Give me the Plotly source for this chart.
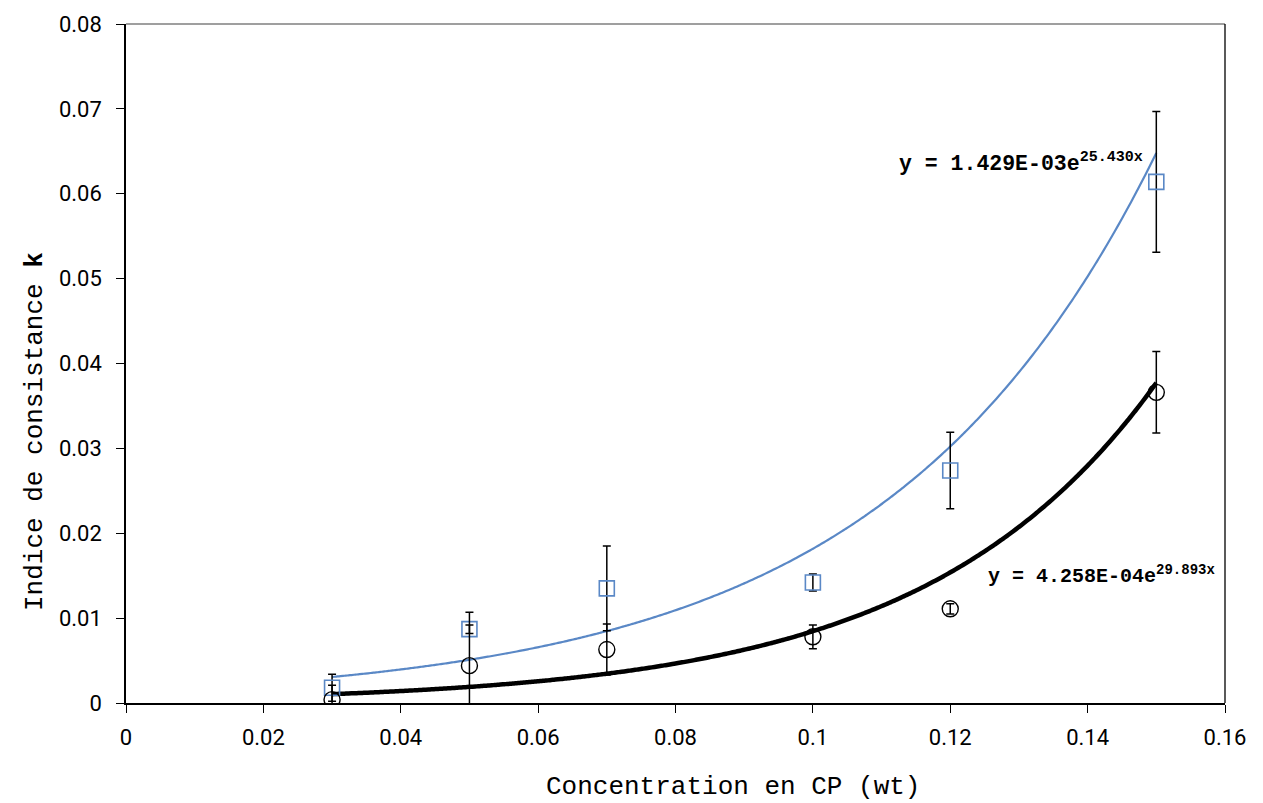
import numpy as np
import plotly.graph_objects as go

# data
conc = [0.03, 0.05, 0.07, 0.10, 0.12, 0.15]
k_blue = [0.0018, 0.0087, 0.0135, 0.0142, 0.0274, 0.0614]
err_blue = [0.0016, 0.0005, 0.0050, 0.0010, 0.0045, 0.0083]
k_black = [0.0004, 0.0044, 0.0063, 0.0078, 0.0111, 0.0366]
err_black = [0.0017, 0.0063, 0.0030, 0.0014, 0.0006, 0.0048]

# fit coefficients displayed on chart: y = a*exp(b*x)
fit_blue = [1.429e-03, 25.430]
fit_black = [4.258e-04, 29.893]

x_ticks = [0, 0.02, 0.04, 0.06, 0.08, 0.1, 0.12, 0.14, 0.16]
y_ticks = [0, 0.01, 0.02, 0.03, 0.04, 0.05, 0.06, 0.07, 0.08]

BLUE = "#5a88c6"
xf = np.linspace(min(conc), max(conc), 300)

fig = go.Figure()
fig.add_trace(go.Scatter(x=xf, y=fit_blue[0] * np.exp(fit_blue[1] * xf), mode="lines",
                         line=dict(color=BLUE, width=2.2, shape="spline"), hoverinfo="skip"))
fig.add_trace(go.Scatter(x=xf, y=fit_black[0] * np.exp(fit_black[1] * xf), mode="lines",
                         line=dict(color="black", width=4.5, shape="spline"), hoverinfo="skip"))
fig.add_trace(go.Scatter(x=conc, y=k_blue, mode="markers",
                         marker=dict(symbol="square-open", size=15, color=BLUE, line=dict(width=1.6)),
                         error_y=dict(type="data", array=err_blue, color="black", thickness=1.5, width=4)))
fig.add_trace(go.Scatter(x=conc, y=k_black, mode="markers",
                         marker=dict(symbol="circle-open", size=16, color="black", line=dict(width=1.4)),
                         error_y=dict(type="data", array=err_black, color="black", thickness=1.5, width=4)))

TYPE = "Liberation Mono, Courier New, monospace"
fig.add_annotation(x=0.1122, y=0.0637, xref="x", yref="y", xanchor="left", yanchor="middle",
                   text="y = 1.429E-03e<sup>25.430x</sup>", showarrow=False,
                   font=dict(family=TYPE, size=21.5, color="black", weight="bold"))
fig.add_annotation(x=0.1252, y=0.0151, xref="x", yref="y", xanchor="left", yanchor="middle",
                   text="y = 4.258E-04e<sup>29.893x</sup>", showarrow=False,
                   font=dict(family=TYPE, size=20, color="black", weight="bold"))

title_font = dict(family=TYPE, size=26, color="black")
fig.add_annotation(x=733, y=787, xref="paper", yref="paper", showarrow=False,
                   text="Concentration en CP (wt)", font=title_font)
fig.add_annotation(x=35, y=432, xref="paper", yref="paper", showarrow=False, textangle=-90,
                   text="Indice de consistance <b>k</b>", font=title_font)

tick_font = dict(family="Roboto, Liberation Sans, sans-serif", size=22, color="black")

# plot area in page pixels: x 126..1225, y 24..703 (page has 8px body offset)
L, R, T, B = 126 - 8, 1263 + 8 - 1225, 24 - 8, 803 + 8 - 703
W, H = 1263, 803
pw, ph = W - L - R, H - T - B
# convert annotation pixel positions (page coords) into paper coords
for ann in fig.layout.annotations[2:]:
    px, py = ann.x, ann.y
    ann.x = (px - 8 - L) / pw
    ann.y = 1 - (py - 8 - T) / ph
    ann.xanchor = "center"
    ann.yanchor = "middle"

# frame: gray top edge, black right edge
fig.add_shape(type="line", xref="paper", yref="paper", x0=0, x1=1, y0=1, y1=1,
              line=dict(color="#7f7f7f", width=1.5))
fig.add_shape(type="line", xref="paper", yref="paper", x0=1, x1=1, y0=0, y1=1,
              line=dict(color="black", width=1.3))

fig.update_layout(
    width=W, height=H,
    margin=dict(l=L, r=R, t=T, b=B, autoexpand=False),
    paper_bgcolor="white", plot_bgcolor="white",
    showlegend=False,
    xaxis=dict(range=[0, 0.16], tickvals=x_ticks, ticktext=[f"{v:g}" for v in x_ticks],
               ticks="outside", ticklen=8, tickcolor="black", showgrid=False, zeroline=False,
               showline=True, linecolor="black", linewidth=1.5, automargin=False,
               tickfont=tick_font, ticklabelstandoff=6),
    yaxis=dict(range=[0, 0.08], tickvals=y_ticks, ticktext=[f"{v:g}" for v in y_ticks],
               ticks="outside", ticklen=8, tickcolor="black", showgrid=False, zeroline=False,
               showline=True, linecolor="black", linewidth=1.5, automargin=False,
               tickfont=tick_font, ticklabelstandoff=10),
)

fig.write_html("out.html")
